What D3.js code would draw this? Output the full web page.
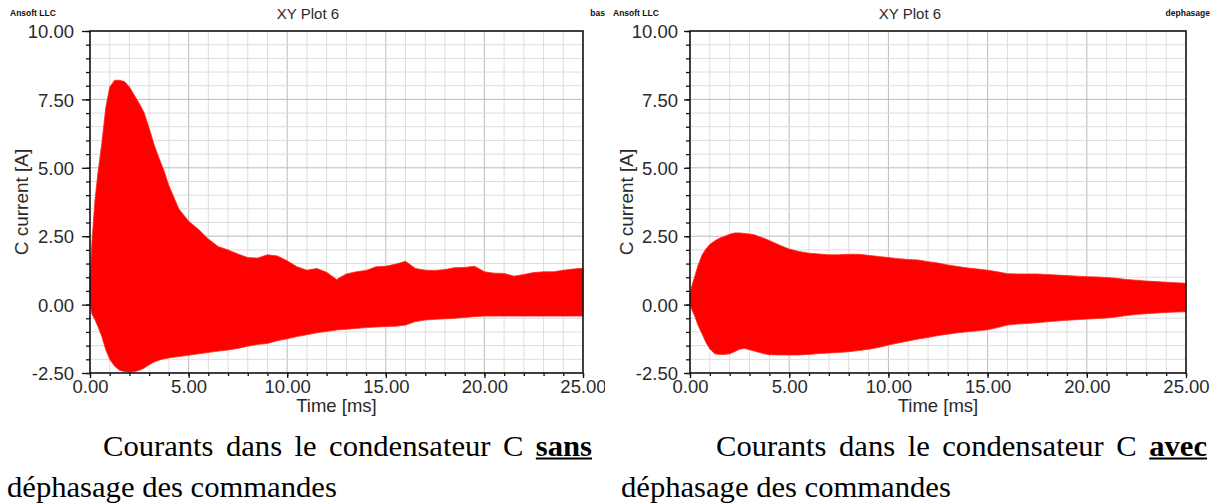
<!DOCTYPE html>
<html>
<head>
<meta charset="utf-8">
<script src="https://cdn.jsdelivr.net/npm/d3@7"></script>
<style>
	body{margin:0;background:#fff;}
	svg{display:block;}
</style>
</head>
<body>
<div id="c-svg"></div>
<script>

//data (envelope of the C current, in A)
const timeMs = [0, 0.1, 0.25, 0.4, 0.6, 0.8, 1, 1.25, 1.5, 1.75, 2, 2.25, 2.5, 2.75, 3, 3.25, 3.5, 3.75, 4, 4.5,
	5, 5.5, 6, 6.5, 7, 7.5, 8, 8.5, 9, 9.5, 10, 10.5, 11, 11.5, 12, 12.5, 13, 13.5, 14, 14.5,
	15, 15.5, 16, 16.5, 17, 17.5, 18, 18.5, 19, 19.5, 20, 20.5, 21, 21.5, 22, 22.5, 23, 23.5, 24, 24.5, 25];

const sansUpper = [1.0, 2.3, 3.8, 4.8, 5.9, 7.2, 7.95, 8.2, 8.2, 8.15, 7.95, 7.65, 7.35, 7.0, 6.45, 5.85, 5.35, 4.9, 4.35, 3.5,
	3.05, 2.75, 2.4, 2.12, 2.0, 1.85, 1.72, 1.7, 1.82, 1.78, 1.6, 1.38, 1.26, 1.32, 1.18, 0.92, 1.12, 1.2, 1.25, 1.38,
	1.4, 1.48, 1.58, 1.32, 1.26, 1.25, 1.28, 1.35, 1.36, 1.4, 1.2, 1.15, 1.14, 1.04, 1.1, 1.17, 1.2, 1.2, 1.26, 1.3, 1.33];
const sansLower = [0.0, -0.35, -0.55, -0.8, -1.17, -1.65, -2.0, -2.25, -2.4, -2.45, -2.47, -2.45, -2.4, -2.32, -2.2, -2.1, -2.03, -1.98, -1.95, -1.9,
	-1.85, -1.8, -1.75, -1.7, -1.66, -1.6, -1.52, -1.46, -1.42, -1.32, -1.25, -1.17, -1.1, -1.03, -0.98, -0.93, -0.9, -0.87, -0.84, -0.82,
	-0.8, -0.79, -0.75, -0.62, -0.56, -0.54, -0.52, -0.5, -0.47, -0.44, -0.42, -0.42, -0.42, -0.42, -0.42, -0.42, -0.42, -0.42, -0.42, -0.42, -0.42];

const avecUpper = [0.4, 0.7, 1.05, 1.42, 1.8, 2.03, 2.2, 2.33, 2.43, 2.5, 2.57, 2.62, 2.62, 2.6, 2.58, 2.55, 2.48, 2.42, 2.34, 2.18,
	2.03, 1.94, 1.88, 1.85, 1.82, 1.82, 1.84, 1.84, 1.8, 1.76, 1.72, 1.68, 1.65, 1.63, 1.57, 1.52, 1.45, 1.39, 1.34, 1.3,
	1.26, 1.2, 1.13, 1.12, 1.12, 1.12, 1.1, 1.08, 1.06, 1.04, 1.02, 1.01, 0.99, 0.96, 0.92, 0.89, 0.86, 0.84, 0.82, 0.8, 0.78];
const avecLower = [0.0, -0.2, -0.44, -0.75, -1.06, -1.38, -1.62, -1.8, -1.82, -1.82, -1.8, -1.72, -1.63, -1.6, -1.65, -1.7, -1.75, -1.8, -1.83, -1.84,
	-1.84, -1.84, -1.82, -1.79, -1.77, -1.75, -1.72, -1.68, -1.63, -1.57, -1.48, -1.4, -1.33, -1.26, -1.2, -1.13, -1.08, -1.03, -0.99, -0.96,
	-0.92, -0.84, -0.75, -0.71, -0.69, -0.66, -0.63, -0.6, -0.57, -0.55, -0.53, -0.51, -0.49, -0.45, -0.4, -0.36, -0.33, -0.31, -0.29, -0.27, -0.26];

//tick labels
const xMajorTicks = [0, 5, 10, 15, 20, 25];
const yMajorTicks = [-2.5, 0, 2.5, 5, 7.5, 10];

//texts
const plotTitle = "XY Plot 6";
const xLabel = "Time [ms]";
const yLabel = "C current [A]";
const captionLine2 = "déphasage des commandes";
const captionSans = ["Courants", "dans", "le", "condensateur", "C", "sans"];
const captionAvec = ["Courants", "dans", "le", "condensateur", "C", "avec"];


function graph(){

	//sizing
	let width = 1217;
	let height = 504;
	let top = 31, bottom = 373;

	const sans = "'Liberation Sans', Arial, sans-serif";
	const serif = "'Liberation Serif', 'DejaVu Serif', serif";
	const fmt = d => d.toFixed(2); //hyphen minus like the original

	//initiate svg
	let svg = d3.select("#c-svg")
		.append("svg")
		.attr("width", width)
		.attr("height", height);

	let panels = [
		{id:"p-sans", clip:[0, 605], left:90, right:583, titleX:308, ansoftX:10, tag:"bas", tagX:605,
			labelX:28, tickLen:8, labelGap:16, upper:sansUpper, lower:sansLower,
			cap:{x1:103, x2:592, x0:7, words:captionSans}},
		{id:"p-avec", clip:[605, 1217], left:690, right:1186, titleX:910, ansoftX:613, tag:"dephasage", tagX:1210,
			labelX:633, tickLen:6, labelGap:12, upper:avecUpper, lower:avecLower,
			cap:{x1:716, x2:1207, x0:621, words:captionAvec}}
	];

	let defs = svg.append("defs");

	panels.forEach(function(p){

		defs.append("clipPath")
			.attr("id", "clip-" + p.id)
			.append("rect")
			.attr("x", p.clip[0])
			.attr("y", 0)
			.attr("width", p.clip[1] - p.clip[0])
			.attr("height", 425);

		let g = svg.append("g")
			.attr("clip-path", "url(#clip-" + p.id + ")");

		//scales
		let x = d3.scaleLinear().domain([0, 25]).range([p.left, p.right]);
		let y = d3.scaleLinear().domain([-2.5, 10]).range([bottom, top]);

		//grid
		g.append("g")
			.selectAll("line")
			.data(x.ticks(25).filter(d => d > 0 && d < 25))
			.join("line")
			.attr("x1", d => x(d)).attr("x2", d => x(d))
			.attr("y1", top).attr("y2", bottom)
			.attr("stroke", d => d % 5 === 0 ? "#bcbcbc" : "#dddddd")
			.attr("stroke-width", 1);

		g.append("g")
			.selectAll("line")
			.data(y.ticks(25).filter(d => d > -2.5 && d < 10))
			.join("line")
			.attr("x1", p.left).attr("x2", p.right)
			.attr("y1", d => y(d)).attr("y2", d => y(d))
			.attr("stroke", d => Math.abs(d % 2.5) < 1e-9 ? "#bcbcbc" : "#dddddd")
			.attr("stroke-width", 1);

		//envelope of the current
		let area = d3.area()
			.x((d, i) => x(timeMs[i]))
			.y0((d, i) => y(p.lower[i]))
			.y1((d, i) => y(p.upper[i]));

		g.append("path")
			.datum(p.upper)
			.attr("d", area)
			.attr("fill", "#ff0000")
			.attr("stroke", "#ff2a1a")
			.attr("stroke-width", 0.8);

		//frame
		g.append("rect")
			.attr("x", p.left)
			.attr("y", top)
			.attr("width", p.right - p.left)
			.attr("height", bottom - top)
			.attr("fill", "none")
			.attr("stroke", "#111")
			.attr("stroke-width", 1.6);

		//axes
		let xMinor = g.append("g")
			.attr("transform", `translate(0,${bottom})`)
			.call(d3.axisBottom(x).ticks(25).tickSize(3).tickFormat(""));
		let xMajor = g.append("g")
			.attr("transform", `translate(0,${bottom})`)
			.call(d3.axisBottom(x).tickValues(xMajorTicks).tickSize(5).tickFormat(fmt));
		let yMinor = g.append("g")
			.attr("transform", `translate(${p.left},0)`)
			.call(d3.axisLeft(y).ticks(25).tickSize(4).tickFormat(""));
		let yMajor = g.append("g")
			.attr("transform", `translate(${p.left},0)`)
			.call(d3.axisLeft(y).tickValues(yMajorTicks).tickSize(p.tickLen).tickFormat(fmt));

		[xMinor, xMajor, yMinor, yMajor].forEach(function(a){
			a.select(".domain").remove();
			a.selectAll(".tick line").attr("stroke", "#111").attr("stroke-width", 1.3);
			a.selectAll("text")
				.attr("font-family", sans)
				.attr("font-size", 18.5)
				.attr("fill", "#2a2a2a");
		});
		xMajor.selectAll("text").attr("y", 20).attr("dy", 0);
		yMajor.selectAll("text").attr("x", -p.labelGap).attr("dy", "0.36em");

		//labels
		g.append("text")
			.attr("x", (p.left + p.right) / 2)
			.attr("y", 412)
			.attr("text-anchor", "middle")
			.attr("font-family", sans)
			.attr("font-size", 18.5)
			.attr("fill", "#2a2a2a")
			.text(xLabel);

		g.append("text")
			.attr("transform", `translate(${p.labelX},${(top + bottom) / 2}) rotate(-90)`)
			.attr("text-anchor", "middle")
			.attr("font-family", sans)
			.attr("font-size", 19)
			.attr("fill", "#2a2a2a")
			.text(yLabel);

		g.append("text")
			.attr("x", p.titleX)
			.attr("y", 19)
			.attr("text-anchor", "middle")
			.attr("font-family", sans)
			.attr("font-size", 15)
			.attr("fill", "#2a2a2a")
			.text(plotTitle);

		g.append("text")
			.attr("x", p.ansoftX)
			.attr("y", 16)
			.attr("font-family", sans)
			.attr("font-size", 8.5)
			.attr("font-weight", "bold")
			.attr("fill", "#111")
			.text("Ansoft LLC");

		g.append("text")
			.attr("x", p.tagX)
			.attr("y", 16)
			.attr("text-anchor", "end")
			.attr("font-family", sans)
			.attr("font-size", 8.5)
			.attr("font-weight", "bold")
			.attr("fill", "#111")
			.text(p.tag);

		//caption: second line sets the glyph width, first line is justified
		const capSize = 30, line2Width = 330;
		let l2 = svg.append("text")
			.attr("font-family", serif)
			.attr("font-size", capSize)
			.attr("fill", "#000")
			.text(captionLine2);
		let squeeze = line2Width / l2.node().getComputedTextLength();
		l2.attr("transform", `translate(${p.cap.x0},497) scale(${squeeze},1)`);

		let line1 = svg.append("g")
			.attr("transform", `translate(${p.cap.x1},456) scale(${squeeze},1)`);
		let words = line1.selectAll("text")
			.data(p.cap.words)
			.join("text")
			.attr("font-family", serif)
			.attr("font-size", capSize)
			.attr("font-weight", (d, i) => i === p.cap.words.length - 1 ? "bold" : null)
			.attr("fill", "#000")
			.text(d => d);
		let widths = words.nodes().map(n => n.getComputedTextLength());
		let gap = ((p.cap.x2 - p.cap.x1) / squeeze - d3.sum(widths)) / (widths.length - 1);
		let pos = [];
		let cur = 0;
		widths.forEach(function(w){ pos.push(cur); cur += w + gap; });
		words.attr("x", (d, i) => pos[i]);
		let last = widths.length - 1;
		line1.append("line")
			.attr("x1", pos[last]).attr("x2", pos[last] + widths[last])
			.attr("y1", 2.5).attr("y2", 2.5)
			.attr("stroke", "#000")
			.attr("stroke-width", 2);

	});

} //function graph

graph();

</script>
</body>
</html>
